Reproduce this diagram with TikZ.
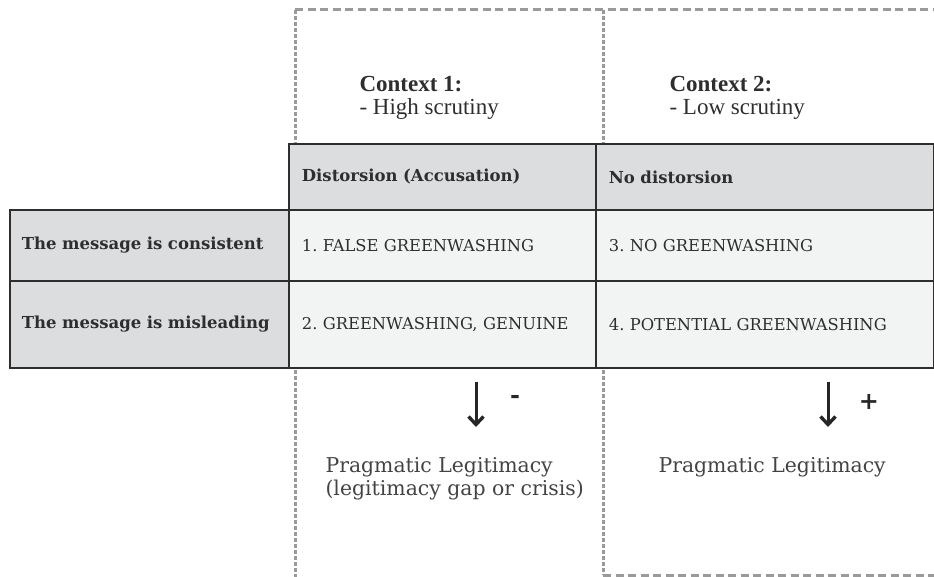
\documentclass[tikz,border=0pt]{standalone}
\usepackage{fontspec}
\setmainfont{DejaVu Serif}
\newfontfamily\ctxfont{Liberation Serif}
\usetikzlibrary{arrows.meta,positioning}
\definecolor{hdgray}{HTML}{DCDDDF}
\definecolor{cellgray}{HTML}{F2F3F3}
\definecolor{txtgray}{HTML}{2E2E2E}
\definecolor{dashgray}{HTML}{9A9A9A}
\tikzset{
  cell/.style={draw=txtgray,line width=1.8pt,rectangle,anchor=north west,align=left,inner xsep=13pt,
    text=txtgray,font=\fontsize{16.3}{18}\selectfont\frenchspacing},
  hdcell/.style={cell,fill=hdgray,font=\fontsize{16.5}{18}\selectfont\bfseries},
  bodycell/.style={cell,fill=cellgray},
  ctx/.style={anchor=west,align=left,text=txtgray,font=\ctxfont\fontsize{23}{23}\selectfont},
  legit/.style={anchor=west,align=left,text=txtgray!90!white,font=\fontsize{20.4}{23}\selectfont},
  hline/.style={dashgray,line width=3pt,dash pattern=on 8pt off 4.5pt},
  vline/.style={dashgray,line width=3pt,dash pattern=on 4pt off 2pt},
  arr/.style={-{Straight Barb[length=8pt,width=15pt,line width=3.4pt]},line width=3pt,black!85},
  sgn/.style={font=\fontsize{24}{24}\selectfont\bfseries,text=black!85}
}
\begin{document}
\begin{tikzpicture}[x=1pt,y=-1pt]
  \useasboundingbox (0,0) rectangle (934,577);

  % context frames
  \draw[hline] (295,10) -- (934,10);
  \draw[vline] (295,10) -- (295,577);
  \draw[vline] (603,10) -- (603,575);
  \draw[hline] (603,575) -- (934,575);

  \node[ctx] (ctx1) at (356,98) {\textbf{Context 1:}\\- High scrutiny};
  \node[ctx] (ctx2) at (666,98) {\textbf{Context 2:}\\- Low scrutiny};

  % table
  \node[hdcell,minimum width=307pt,minimum height=66pt,text width=281pt] (hd1) at (288,143) {Distorsion (Accusation)};
  \node[hdcell,minimum width=338pt,minimum height=66pt,text width=312pt] (hd2) at (595,143) {No distorsion};
  \node[hdcell,minimum width=279pt,minimum height=71pt,text width=255pt,inner xsep=12pt] (row1) at (9,209) {The message is consistent};
  \node[hdcell,minimum width=279pt,minimum height=87pt,text width=255pt,inner xsep=12pt] (row2) at (9,280) {The message is misleading};
  \node[bodycell,minimum width=307pt,minimum height=71pt,text width=281pt] (c1) at (288,209) {1. FALSE GREENWASHING};
  \node[bodycell,minimum width=307pt,minimum height=87pt,text width=281pt] (c2) at (288,280) {2. GREENWASHING, GENUINE};
  \node[bodycell,minimum width=338pt,minimum height=71pt,text width=312pt] (c3) at (595,209) {3. NO GREENWASHING};
  \node[bodycell,minimum width=338pt,minimum height=87pt,text width=312pt] (c4) at (595,280) {4. POTENTIAL GREENWASHING};

  % effect on legitimacy
  \coordinate (a1s) at (476,382);
  \coordinate (a1e) at (476,427);
  \coordinate (a2s) at (828,382);
  \coordinate (a2e) at (828,427);
  \draw[arr] (a1s) -- (a1e);
  \draw[arr] (a2s) -- (a2e);
  \node[sgn] (minus) at (515,399) {-};
  \node[sgn] (plus) at (869,402) {+};

  \node[legit] (leg1) at (322,479) {Pragmatic Legitimacy\\(legitimacy gap or crisis)};
  \node[legit] (leg2) at (655,467) {Pragmatic Legitimacy};
\end{tikzpicture}
\end{document}
